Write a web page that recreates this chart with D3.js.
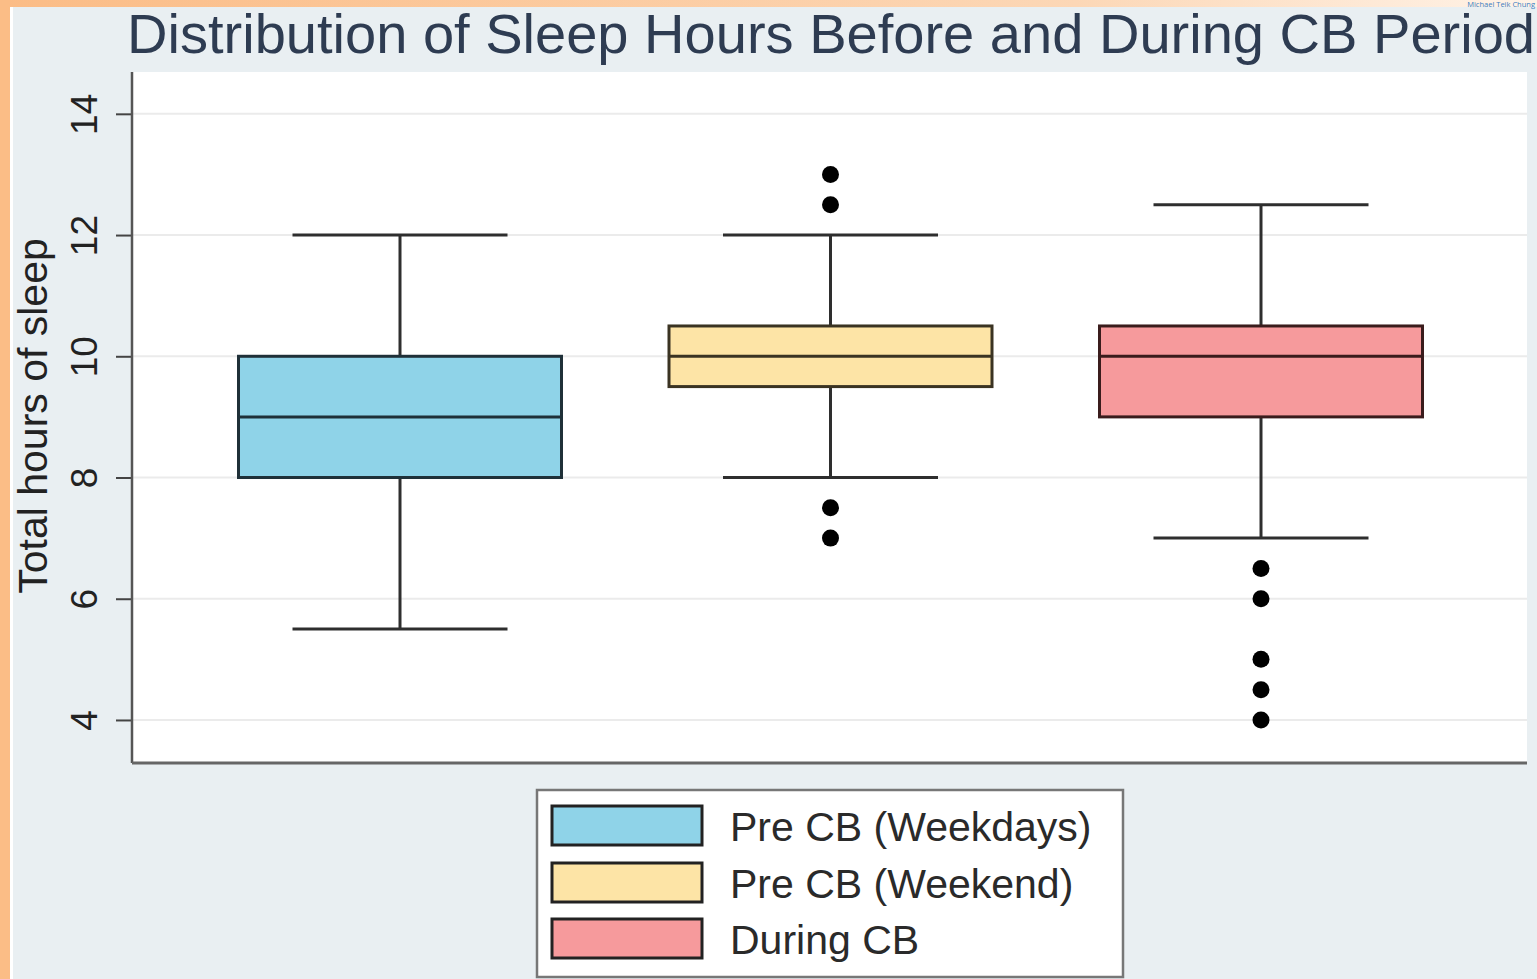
<!DOCTYPE html>
<html>
<head>
<meta charset="utf-8">
<script src="https://cdn.jsdelivr.net/npm/d3@7"></script>
<style>
  html, body { margin: 0; padding: 0; background: #e9eff2; overflow: hidden; }
  svg { display: block; }
</style>
</head>
<body>
<svg id="chart" width="1537" height="979"></svg>
<script>
// Box-plot summaries (hours of sleep)
const categories = ["Pre CB (Weekdays)", "Pre CB (Weekend)", "During CB"];
const q1Values      = [8, 9.5, 9];
const medianValues  = [9, 10, 10];
const q3Values      = [10, 10.5, 10.5];
const lowerWhiskers = [5.5, 8, 7];
const upperWhiskers = [12, 12, 12.5];
const outlierValues = [[], [13, 12.5, 7.5, 7], [6.5, 6, 5, 4.5, 4]];
const fillColors    = ["#8fd3e8", "#fde4a6", "#f69a9c"];
const strokeColors  = ["#1f3038", "#3a3322", "#3a1c1c"];
const yTicks        = [4, 6, 8, 10, 12, 14];

const titleText = "Distribution of Sleep Hours Before and During CB Period";
const yLabel = "Total hours of sleep";

const svg = d3.select("#chart");
const W = 1537, H = 979;

// Page frame: orange edge strips
const defs = svg.append("defs");
const topGrad = defs.append("linearGradient").attr("id", "topGrad");
topGrad.append("stop").attr("offset", "0%").attr("stop-color", "#fbbc86");
topGrad.append("stop").attr("offset", "70%").attr("stop-color", "#fcd7b6");
topGrad.append("stop").attr("offset", "100%").attr("stop-color", "#fff3e8");

svg.append("rect").attr("x", 0).attr("y", 0).attr("width", W).attr("height", H).attr("fill", "#e9eff2");
svg.append("rect").attr("x", 0).attr("y", 0).attr("width", W).attr("height", 7).attr("fill", "url(#topGrad)");
svg.append("rect").attr("x", 10).attr("y", 7).attr("width", 3).attr("height", H).attr("fill", "#ffffff");
svg.append("rect").attr("x", 0).attr("y", 0).attr("width", 10).attr("height", H).attr("fill", "#fbbd86");

// Small attribution text at the top edge
svg.append("text")
  .attr("x", 1535).attr("y", 7)
  .attr("text-anchor", "end")
  .attr("font-family", "Open Sans, sans-serif")
  .attr("font-size", 7.5)
  .attr("fill", "#3a7fc4")
  .text("Michael Teik Chung");

// Plot area
const plot = { left: 132, right: 1527, top: 72, bottom: 763 };

const y = d3.scaleLinear()
  .domain([3.29, 14.69])
  .range([plot.bottom, plot.top]);

const x = d3.scalePoint()
  .domain(categories)
  .range([plot.left + 268, plot.left + 1129]);

const boxW = 323, capW = 215;

svg.append("rect")
  .attr("x", plot.left).attr("y", plot.top)
  .attr("width", plot.right - plot.left).attr("height", plot.bottom - plot.top)
  .attr("fill", "#ffffff");

// Grid lines
svg.append("g").selectAll("line").data(yTicks).join("line")
  .attr("x1", plot.left).attr("x2", plot.right)
  .attr("y1", d => y(d)).attr("y2", d => y(d))
  .attr("stroke", "#ebebeb").attr("stroke-width", 2);

// Y axis
const yAxis = svg.append("g")
  .attr("transform", `translate(${plot.left},0)`)
  .call(d3.axisLeft(y).tickValues(yTicks).tickSize(16).tickSizeOuter(0).tickPadding(0));
yAxis.select(".domain").remove();
yAxis.selectAll(".tick line").attr("stroke", "#444").attr("stroke-width", 2);
yAxis.selectAll(".tick text")
  .attr("font-family", "Liberation Sans, Arial, sans-serif")
  .attr("font-size", 37)
  .attr("fill", "#222")
  .attr("text-anchor", "middle")
  .attr("dy", 0)
  .attr("transform", "translate(-48,0) rotate(-90)")
  .attr("x", 0)
  .attr("y", 0)
  .attr("dominant-baseline", "central");

svg.append("line")
  .attr("x1", plot.left).attr("x2", plot.left)
  .attr("y1", plot.top).attr("y2", plot.bottom)
  .attr("stroke", "#555").attr("stroke-width", 2.5);
svg.append("line")
  .attr("x1", plot.left).attr("x2", plot.right)
  .attr("y1", plot.bottom).attr("y2", plot.bottom)
  .attr("stroke", "#666").attr("stroke-width", 3);

// Y axis title
svg.append("text")
  .attr("transform", `translate(47,416) rotate(-90)`)
  .attr("text-anchor", "middle")
  .attr("font-family", "Liberation Sans, Arial, sans-serif")
  .attr("font-size", 41)
  .attr("fill", "#222")
  .text(yLabel);

// Boxes
const stats = categories.map((c, i) => ({
  cat: c, q1: q1Values[i], med: medianValues[i], q3: q3Values[i],
  lo: lowerWhiskers[i], hi: upperWhiskers[i], out: outlierValues[i],
  fill: fillColors[i], stroke: strokeColors[i]
}));

const wStroke = "#2e2e2e";
const g = svg.append("g").selectAll("g").data(stats).join("g");

// whisker stems
g.append("line")
  .attr("x1", d => x(d.cat)).attr("x2", d => x(d.cat))
  .attr("y1", d => y(d.hi)).attr("y2", d => y(d.q3))
  .attr("stroke", wStroke).attr("stroke-width", 3);
g.append("line")
  .attr("x1", d => x(d.cat)).attr("x2", d => x(d.cat))
  .attr("y1", d => y(d.q1)).attr("y2", d => y(d.lo))
  .attr("stroke", wStroke).attr("stroke-width", 3);
// caps
g.append("line")
  .attr("x1", d => x(d.cat) - capW / 2).attr("x2", d => x(d.cat) + capW / 2)
  .attr("y1", d => y(d.hi)).attr("y2", d => y(d.hi))
  .attr("stroke", wStroke).attr("stroke-width", 3);
g.append("line")
  .attr("x1", d => x(d.cat) - capW / 2).attr("x2", d => x(d.cat) + capW / 2)
  .attr("y1", d => y(d.lo)).attr("y2", d => y(d.lo))
  .attr("stroke", wStroke).attr("stroke-width", 3);
// box
g.append("rect")
  .attr("x", d => x(d.cat) - boxW / 2).attr("width", boxW)
  .attr("y", d => y(d.q3)).attr("height", d => y(d.q1) - y(d.q3))
  .attr("fill", d => d.fill)
  .attr("stroke", d => d.stroke).attr("stroke-width", 3);
// median
g.append("line")
  .attr("x1", d => x(d.cat) - boxW / 2).attr("x2", d => x(d.cat) + boxW / 2)
  .attr("y1", d => y(d.med)).attr("y2", d => y(d.med))
  .attr("stroke", d => d.stroke).attr("stroke-width", 3);
// outliers
g.selectAll("circle").data(d => d.out.map(v => ({ cat: d.cat, v }))).join("circle")
  .attr("cx", d => x(d.cat)).attr("cy", d => y(d.v))
  .attr("r", 8.5).attr("fill", "#000");

// Title
svg.append("text")
  .attr("x", 127).attr("y", 53)
  .attr("font-family", "Liberation Sans, Arial, sans-serif")
  .attr("font-size", 56)
  .attr("fill", "#2e3c52")
  .attr("textLength", 1408)
  .attr("lengthAdjust", "spacingAndGlyphs")
  .text(titleText);

// Legend
const leg = { x: 537, y: 790, w: 586, h: 187 };
const legend = svg.append("g");
legend.append("rect")
  .attr("x", leg.x).attr("y", leg.y).attr("width", leg.w).attr("height", leg.h)
  .attr("fill", "#ffffff").attr("stroke", "#777").attr("stroke-width", 2.5);
const rowY = [806, 863, 919];
const items = legend.selectAll("g").data(stats).join("g")
  .attr("transform", (d, i) => `translate(${leg.x + 15},${rowY[i]})`);
items.append("rect")
  .attr("width", 150).attr("height", 39)
  .attr("fill", d => d.fill).attr("stroke", "#222").attr("stroke-width", 3);
items.append("text")
  .attr("x", 178).attr("y", 21)
  .attr("dominant-baseline", "central")
  .attr("font-family", "Liberation Sans, Arial, sans-serif")
  .attr("font-size", 41)
  .attr("fill", "#2a2a2a")
  .text(d => d.cat);
</script>
</body>
</html>
